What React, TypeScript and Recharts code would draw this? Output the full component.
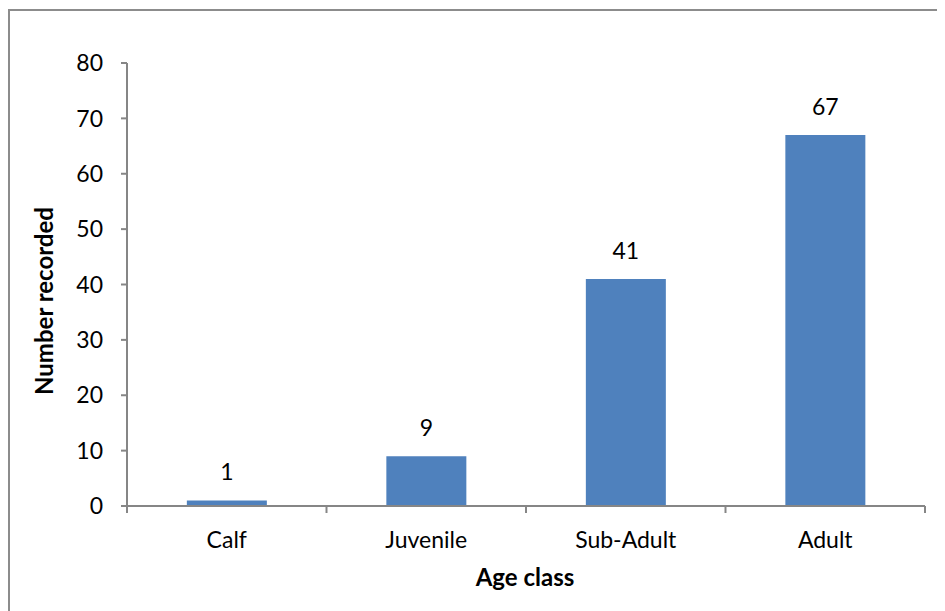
import { BarChart, Bar, XAxis, YAxis, LabelList } from 'recharts';

const ageClasses = ['Calf', 'Juvenile', 'Sub-Adult', 'Adult'];
const recorded = [1, 9, 41, 67];
const yTicks = [0, 10, 20, 30, 40, 50, 60, 70, 80];

const data = ageClasses.map((ageClass, i) => ({ ageClass, recorded: recorded[i] }));

const FONT = 'Lato, "Open Sans", sans-serif';
const AXIS = '#868686';

// Category tick: label under the band centre, tick marks on the band edges
function AgeTick(props: any) {
  const { x, y, payload, index } = props;
  const half = payload?.offset ?? 99.5;
  return (
    <g>
      <line x1={x - half} y1={y} x2={x - half} y2={y + 7} stroke={AXIS} strokeWidth={2} />
      {index === ageClasses.length - 1 && (
        <line x1={x + half} y1={y} x2={x + half} y2={y + 7} stroke={AXIS} strokeWidth={2} />
      )}
      <text x={x} y={y + 36} textAnchor="middle" dominantBaseline="middle" fill="#000" fontSize={23} fontFamily={FONT}>
        {payload.value}
      </text>
    </g>
  );
}

export default function App() {
  return (
    <div style={{ width: 933, height: 620, marginTop: 1, border: '2px solid #8c8c8c', background: '#fff' }}>
      <BarChart
        width={935}
        height={600}
        data={data}
        margin={{ top: 52, right: 20, bottom: 45, left: 57 }}
        barCategoryGap="30%"
      >
        <XAxis
          dataKey="ageClass"
          height={60}
          axisLine={{ stroke: AXIS, strokeWidth: 2 }}
          tickLine={false}
          tickSize={0}
          tickMargin={0}
          tick={<AgeTick />}
          interval={0}
          label={{
            content: () => (
              <text x={515} y={569} textAnchor="middle" dominantBaseline="middle" fontSize={24} fontWeight="bold" fontFamily={FONT} fill="#000">
                Age class
              </text>
            ),
          }}
        />
        <YAxis
          width={60}
          domain={[0, 80]}
          ticks={yTicks}
          interval={0}
          axisLine={{ stroke: AXIS, strokeWidth: 2 }}
          tickLine={{ stroke: AXIS, strokeWidth: 2 }}
          tickSize={6}
          tickMargin={18}
          tick={{ fill: '#000', fontSize: 23, fontFamily: FONT }}
          label={{
            content: () => (
              <text x={37} y={290} transform="rotate(-90 37 290)" textAnchor="middle" dominantBaseline="middle" fontSize={24} fontWeight="bold" fontFamily={FONT} fill="#000">
                Number recorded
              </text>
            ),
          }}
        />
        <Bar dataKey="recorded" fill="#4F81BD" isAnimationActive={false}>
          <LabelList dataKey="recorded" position="top" offset={20} fill="#000" fontSize={23} fontFamily={FONT} />
        </Bar>
      </BarChart>
    </div>
  );
}
